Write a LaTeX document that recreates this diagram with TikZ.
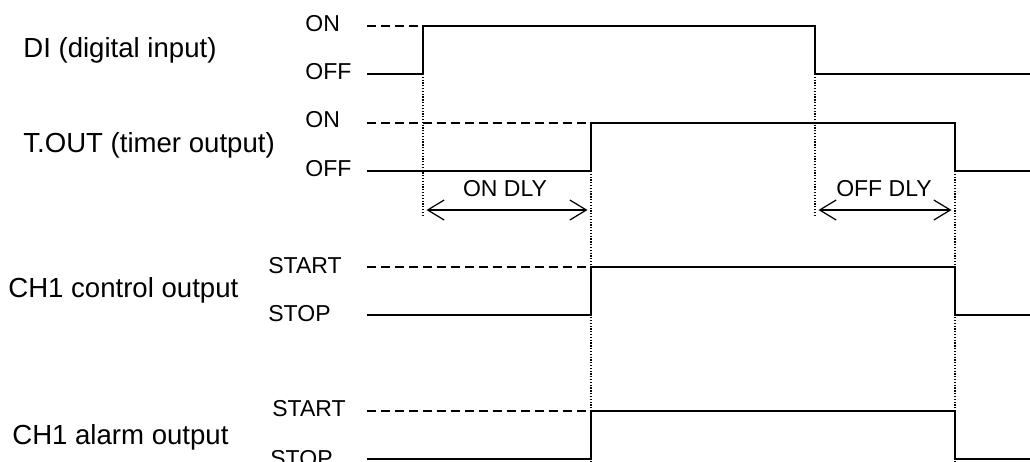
\documentclass[tikz,border=0pt]{standalone}
\usepackage{fontspec}
\setmainfont{Liberation Sans}
\usepackage{tikz}
\usetikzlibrary{positioning}
\usetikzlibrary{calc}
\usetikzlibrary{arrows.meta}

\tikzset{
  sig/.style={line width=1.4pt},
  lvl/.style={line width=0.9pt, dash pattern=on 0.18cm off 0.10cm},
  guide/.style={line width=0.6pt, dash pattern=on 0.7pt off 0.9pt},
  dly/.style={line width=0.7pt, shorten <=0.07cm, shorten >=0.07cm,
    {Straight Barb[length=0.33cm,width=0.4cm]}-{Straight Barb[length=0.33cm,width=0.4cm]}},
  big/.style={inner sep=0pt, anchor=base west, font=\fontsize{15.7}{18}\selectfont},
  small/.style={inner sep=0pt, anchor=base west, font=\fontsize{13.1}{16}\selectfont},
}

\begin{document}
\begin{tikzpicture}[x=0.02cm, y=-0.02cm]
\useasboundingbox (0,0) rectangle (1030,461);

% signal names
\node[big] (di) at (23,57) {DI (digital input)};
\node[big] (tout) at (23,152) {T.OUT (timer output)};
\node[big] (ctl) at (8,297) {CH1 control output};
\node[big] (alm) at (12,444) {CH1 alarm output};

% level names
\node[small] (dion) at (305,31) {ON};
\node[small] (dioff) at (305,79) {OFF};
\node[small] (toon) at (305,127) {ON};
\node[small] (tooff) at (305,176) {OFF};
\node[small] (ctlstart) at (268,273) {START};
\node[small] (ctlstop) at (268,321) {STOP};
\node[small] (almstart) at (272,416) {START};
\node[small] (almstop) at (270,466) {STOP};

% DI
\coordinate (di0) at (367,74);
\coordinate (di1) at (423,74);
\coordinate (di2) at (423,26);
\coordinate (di3) at (815,26);
\coordinate (di4) at (815,74);
\coordinate (di5) at (1030,74);
\coordinate (dih) at (367,26);
\draw[lvl] (dih) -- (di2);
\draw[sig] (di0) -- (di1) -- (di2) -- (di3) -- (di4) -- (di5);

% T.OUT
\coordinate (to0) at (367,171);
\coordinate (to1) at (591,171);
\coordinate (to2) at (591,123);
\coordinate (to3) at (955,123);
\coordinate (to4) at (955,171);
\coordinate (to5) at (1030,171);
\coordinate (toh) at (367,123);
\draw[lvl] (toh) -- (to2);
\draw[sig] (to0) -- (to1) -- (to2) -- (to3) -- (to4) -- (to5);

% CH1 control
\coordinate (ct0) at (367,315);
\coordinate (ct1) at (591,315);
\coordinate (ct2) at (591,267);
\coordinate (ct3) at (955,267);
\coordinate (ct4) at (955,315);
\coordinate (ct5) at (1030,315);
\coordinate (cth) at (367,267);
\draw[lvl] (cth) -- (ct2);
\draw[sig] (ct0) -- (ct1) -- (ct2) -- (ct3) -- (ct4) -- (ct5);

% CH1 alarm
\coordinate (al0) at (367,459);
\coordinate (al1) at (591,459);
\coordinate (al2) at (591,411);
\coordinate (al3) at (955,411);
\coordinate (al4) at (955,459);
\coordinate (al5) at (1030,459);
\coordinate (alh) at (367,411);
\draw[lvl] (alh) -- (al2);
\draw[sig] (al0) -- (al1) -- (al2) -- (al3) -- (al4) -- (al5);

% guides
\coordinate (g1) at (423,215);
\coordinate (g2) at (815,215);
\coordinate (g3) at (591,461);
\coordinate (g4) at (955,461);
\draw[guide] (di1) -- (g1);
\draw[guide] (di4) -- (g2);
\draw[guide] (to1) -- (g3);
\draw[guide] (to4) -- (g4);

% delays
\coordinate (ona) at (423,210);
\coordinate (onb) at (591,210);
\coordinate (offa) at (815,210);
\coordinate (offb) at (955,210);
\draw[dly] (ona) -- (onb);
\draw[dly] (offa) -- (offb);
\node[small, anchor=base] (ondly) at (505,196) {ON DLY};
\node[small, anchor=base] (offdly) at (884,196) {OFF DLY};
\end{tikzpicture}
\end{document}
